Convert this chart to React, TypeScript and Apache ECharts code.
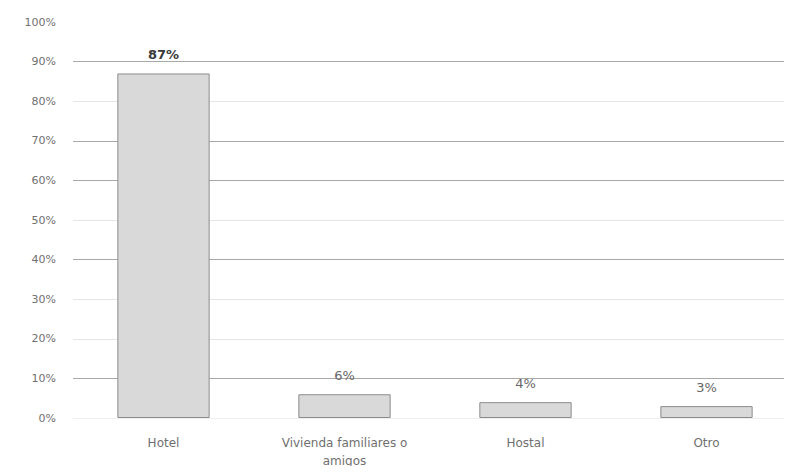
import React, { useEffect, useRef } from "react";
import * as echarts from "echarts";

const categories = ["Hotel", "Vivienda familiares o\namigos", "Hostal", "Otro"];
const values = [87, 6, 4, 3];
const yTicks = { min: 0, max: 100, interval: 10 };
const gridColors = [
  "#eeeeee", "#a8a8a8", "#e6e6e6", "#e6e6e6", "#a8a8a8", "#e6e6e6",
  "#a8a8a8", "#a8a8a8", "#e6e6e6", "#a8a8a8", "#ffffff",
];

export default function App() {
  const ref = useRef<HTMLDivElement>(null);
  useEffect(() => {
    const chart = echarts.init(ref.current!, null, { renderer: "svg" });
    chart.setOption({
      animation: false,
      backgroundColor: "#ffffff",
      grid: { left: 73, top: 22, width: 724, bottom: 56, outerBoundsMode: "none", containLabel: false },
      xAxis: {
        type: "category",
        data: categories,
        axisLine: { show: false },
        axisTick: { show: false },
        axisLabel: {
          color: "#707070",
          fontSize: 12,
          fontFamily: "DejaVu Sans",
          margin: 16,
          lineHeight: 18,
        },
      },
      yAxis: {
        type: "value",
        min: yTicks.min,
        max: yTicks.max,
        interval: yTicks.interval,
        axisLine: { show: false },
        axisTick: { show: false },
        splitLine: { lineStyle: { color: gridColors, width: 1 } },
        axisLabel: {
          color: "#707070",
          fontSize: 11,
          fontFamily: "DejaVu Sans",
          margin: 17,
          formatter: "{value}%",
        },
      },
      series: [
        {
          type: "bar",
          data: values.map((v, i) =>
            i === 0 ? { value: v, label: { color: "#3a3a3a", fontWeight: "bold" } } : v
          ),
          barWidth: "51%",
          itemStyle: {
            color: "#d9d9d9",
            borderColor: "#8c8c8c",
            borderWidth: 1,
          },
          label: {
            show: true,
            position: "top",
            formatter: "{c}%",
            color: "#666666",
            fontSize: 13,
            fontFamily: "DejaVu Sans",
            distance: 12,
          },
        },
      ],
    });
    return () => chart.dispose();
  }, []);
  return <div ref={ref} style={{ width: 792, height: 474, margin: -8 }} />;
}
